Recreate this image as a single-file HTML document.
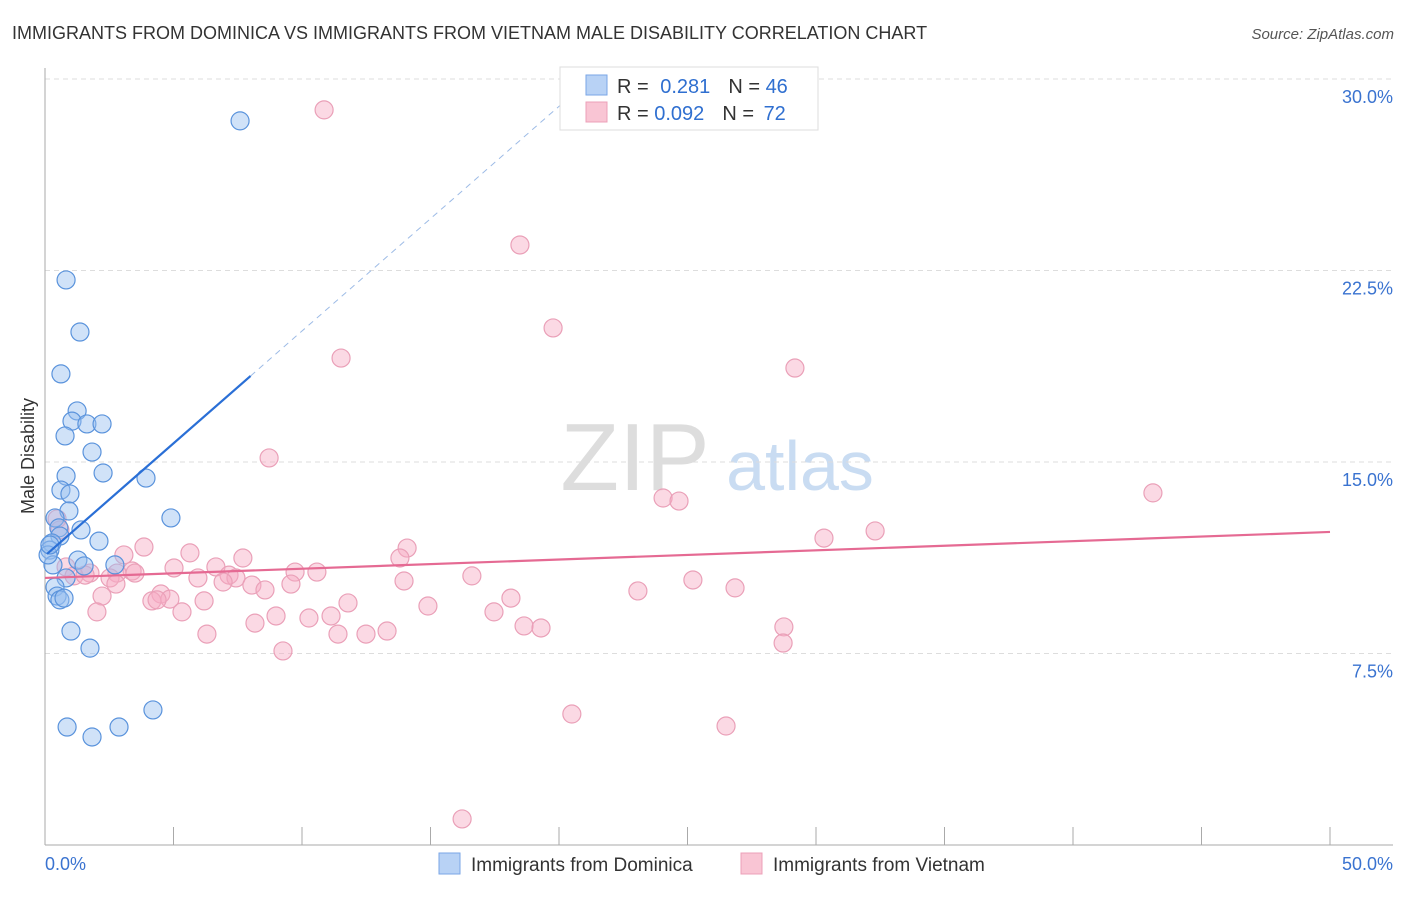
<!DOCTYPE html>
<html><head><meta charset="utf-8"><style>
body{margin:0;background:#fff;font-family:"Liberation Sans",sans-serif;}
svg text{font-family:"Liberation Sans",sans-serif;}
</style></head><body>
<svg id="chart" width="1406" height="892" xmlns="http://www.w3.org/2000/svg">
<text x="12" y="39" font-size="18" fill="#333">IMMIGRANTS FROM DOMINICA VS IMMIGRANTS FROM VIETNAM MALE DISABILITY CORRELATION CHART</text>
<text x="1394" y="39" font-size="15" fill="#555" font-style="italic" text-anchor="end">Source: ZipAtlas.com</text>
<g>
<text x="635" y="490" font-size="96" fill="#ddd" font-family="Liberation Serif" text-anchor="middle">ZIP</text>
<text x="800" y="490" font-size="70" fill="#c9dcf2" text-anchor="middle">atlas</text>
</g>
<g id="grid"></g>
<g id="axes"></g>
<g id="marks"></g>
<text transform="translate(34,456) rotate(-90)" font-size="18" fill="#333" text-anchor="middle">Male Disability</text>
<g>
<rect x="560" y="67" width="258" height="63" fill="#fff" stroke="#ddd"/>
<rect x="586" y="75" width="21" height="20" fill="#b8d2f5" stroke="#7aa6e6"/>
<rect x="586" y="102" width="21" height="20" fill="#f9c5d4" stroke="#eca0b8"/>
<text x="617" y="93" font-size="20" fill="#333">R = <tspan fill="#2f6fd0" dx="6">0.281</tspan><tspan dx="18">N = </tspan><tspan fill="#2f6fd0">46</tspan></text>
<text x="617" y="120" font-size="20" fill="#333">R = <tspan fill="#2f6fd0">0.092</tspan><tspan dx="18">N = </tspan><tspan fill="#2f6fd0" dx="4">72</tspan></text>
</g>
<g>
<rect x="439" y="853" width="21" height="21" fill="#b8d2f5" stroke="#7aa6e6"/>
<text x="471" y="871" font-size="19" fill="#333">Immigrants from Dominica</text>
<rect x="741" y="853" width="21" height="21" fill="#f9c5d4" stroke="#eca0b8"/>
<text x="773" y="871" font-size="19" fill="#333">Immigrants from Vietnam</text>
</g>
</svg>
<script>
const yTicks=[7.5,15,22.5,30];
const yTickLabels=["7.5%","15.0%","22.5%","30.0%"];
const xTickLabels=["0.0%","50.0%"];
const blueX=[7.59,0.82,1.36,0.62,1.25,1.05,1.63,2.22,0.78,1.83,0.82,2.26,3.93,0.62,0.97,0.93,0.39,4.9,0.54,1.4,0.58,0.27,2.1,0.19,1.28,2.72,0.31,1.52,0.82,0.39,0.47,0.58,0.74,1.01,1.75,4.2,0.86,2.88,1.83,0.12,0.19];
const blueY=[28.36,22.13,20.09,18.45,17.0,16.6,16.49,16.49,16.02,15.39,14.45,14.57,14.37,13.9,13.75,13.08,12.81,12.81,12.42,12.34,12.1,11.83,11.9,11.55,11.16,10.97,10.97,10.93,10.46,10.1,9.75,9.6,9.67,8.38,7.71,5.29,4.62,4.62,4.23,11.36,11.75];
const pinkX=[10.86,18.48,19.77,11.52,29.18,8.72,43.11,24.05,24.67,32.3,30.31,0.47,0.58,3.85,5.64,7.7,3.07,14.09,13.81,6.65,5.02,3.39,0.82,1.75,2.8,3.5,7.16,9.73,10.58,16.61,1.13,1.56,2.53,5.95,7.43,6.93,8.05,9.57,13.97,25.21,2.76,8.56,23.07,26.85,4.51,2.22,4.16,4.86,4.36,6.19,11.79,18.13,14.9,2.02,5.33,8.99,10.27,11.13,17.47,8.17,18.64,19.3,28.75,13.31,11.4,12.49,6.3,28.72,9.26,20.5,26.5,16.23];
const pinkY=[28.79,23.5,20.25,19.07,18.68,15.16,13.79,13.59,13.47,12.3,12.02,12.77,12.34,11.67,11.44,11.24,11.36,11.63,11.24,10.89,10.85,10.73,10.89,10.65,10.65,10.65,10.57,10.69,10.69,10.54,10.54,10.57,10.46,10.46,10.46,10.3,10.18,10.22,10.34,10.38,10.22,9.99,9.95,10.07,9.83,9.75,9.56,9.63,9.6,9.56,9.48,9.67,9.36,9.13,9.13,8.97,8.89,8.97,9.13,8.69,8.58,8.5,8.54,8.38,8.26,8.26,8.26,7.91,7.6,5.13,4.66,1.02];
const blueFit=[11.33,0.88];
const pinkFit=[10.46,0.036];
const NS="http://www.w3.org/2000/svg";
const sx=v=>45+v/50*1285;
const sy=v=>845-v/7.5*191.5;
function mk(tag,attrs,parent){const e=document.createElementNS(NS,tag);for(const k in attrs)e.setAttribute(k,attrs[k]);parent.appendChild(e);return e;}
const grid=document.getElementById('grid'),axes=document.getElementById('axes'),marks=document.getElementById('marks');
yTicks.forEach((t,i)=>{
 const l=mk('line',{x1:45,x2:1393,y1:sy(t),y2:sy(t),stroke:'#ddd','stroke-dasharray':'5,4'},grid);
 
 
 const tx=mk('text',{x:1393,y:sy(t)+24,'font-size':18,fill:'#3a73d0','text-anchor':'end'},axes);
 tx.textContent=yTickLabels[i];
 
 
});
const ya=mk('line',{x1:45,x2:45,y1:68,y2:845,stroke:'#aaa'},axes);


const xa=mk('line',{x1:45,x2:1393,y1:845,y2:845,stroke:'#aaa'},axes);


for(let i=0;i<=10;i++){
 const tk=mk('line',{x1:sx(i*5),x2:sx(i*5),y1:827,y2:845,stroke:'#aaa'},axes);
 
 
}
[[0,'start',45],[50,'end',1393]].forEach((d,i)=>{
 const tx=mk('text',{x:d[2],y:870,'font-size':18,fill:'#3a73d0','text-anchor':d[1]},axes);
 tx.textContent=xTickLabels[i];
 
 
});
pinkX.forEach((x,i)=>{
 const c=mk('circle',{cx:sx(x),cy:sy(pinkY[i]),r:9,fill:'rgba(246,170,195,0.45)',stroke:'#eaa0b8','stroke-width':1.2},marks);
 
 
});
blueX.forEach((x,i)=>{
 const c=mk('circle',{cx:sx(x),cy:sy(blueY[i]),r:9,fill:'rgba(150,190,240,0.45)',stroke:'#5a93dc','stroke-width':1.2},marks);
 
 
});
const bl=mk('line',{x1:sx(0.08),y1:sy(blueFit[0]+blueFit[1]*0.08),x2:sx(8),y2:sy(blueFit[0]+blueFit[1]*8),stroke:'#2a6fd6','stroke-width':2.2},marks);


const bd=mk('line',{x1:sx(8),y1:sy(blueFit[0]+blueFit[1]*8),x2:sx(21),y2:sy(blueFit[0]+blueFit[1]*21),stroke:'#9dbbe6','stroke-width':1,'stroke-dasharray':'6,5'},marks);


const pl=mk('line',{x1:sx(0),y1:sy(pinkFit[0]),x2:sx(50),y2:sy(pinkFit[0]+pinkFit[1]*50),stroke:'#e56a93','stroke-width':2.2},marks);


</script>
</body></html>
